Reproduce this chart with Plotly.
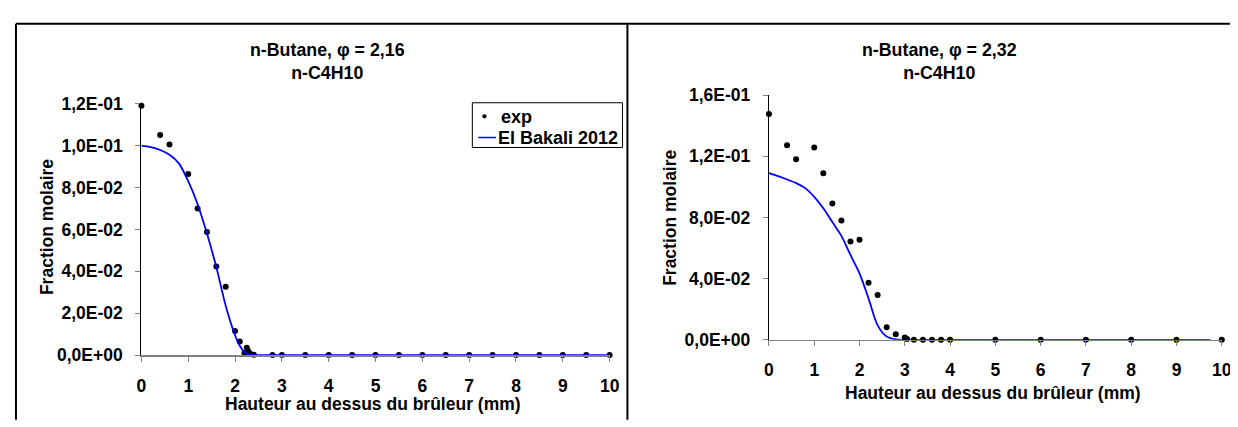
import plotly.graph_objects as go

# The page body keeps its default 8 px margin, so the figure covers page pixels 8..1238 x 8..427
OFF = 8
W, H = 1238 - OFF, 427 - OFF

# ---------------- data ----------------
x_ticks = [0, 1, 2, 3, 4, 5, 6, 7, 8, 9, 10]
x_ticktext = ["0", "1", "2", "3", "4", "5", "6", "7", "8", "9", "10"]

# Left panel: phi = 2,16
left_y_ticks = [0, 0.02, 0.04, 0.06, 0.08, 0.10, 0.12]
left_y_ticktext = ["0,0E+00", "2,0E-02", "4,0E-02", "6,0E-02", "8,0E-02", "1,0E-01", "1,2E-01"]

left_exp_x = [0, 0.4, 0.6, 1.0, 1.2, 1.4, 1.6, 1.8, 2.0, 2.1, 2.2, 2.25, 2.28, 2.32, 2.4,
              2.8, 3.0, 3.5, 4.0, 4.5, 5.0, 5.5, 6.0, 6.5, 7.0, 7.5, 8.0, 8.5, 9.0, 9.5, 10.0]
left_exp_y = [0.119, 0.105, 0.1005, 0.0865, 0.070, 0.0588, 0.0423, 0.0326, 0.0115, 0.0065,
              0.001, 0.0035, 0.002, 0.0008, 0.0002,
              0, 0, 0, 0, 0, 0, 0, 0, 0, 0, 0, 0, 0, 0, 0, 0]

left_mod_x = [0, 0.2, 0.4, 0.6, 0.8, 1.0, 1.2, 1.4, 1.6, 1.8, 2.0, 2.1, 2.2, 2.3, 2.4, 2.6,
              3, 4, 5, 6, 7, 8, 9, 10]
left_mod_y = [0.100, 0.0993, 0.0979, 0.0956, 0.0915, 0.083, 0.072, 0.058, 0.042, 0.0236,
              0.0095, 0.0045, 0.0015, 0.0004, 0.0001, 0,
              0, 0, 0, 0, 0, 0, 0, 0]

# Right panel: phi = 2,32
right_y_ticks = [0, 0.04, 0.08, 0.12, 0.16]
right_y_ticktext = ["0,0E+00", "4,0E-02", "8,0E-02", "1,2E-01", "1,6E-01"]

right_exp_x = [0, 0.4, 0.6, 1.0, 1.2, 1.4, 1.6, 1.8, 2.0, 2.2, 2.4, 2.6, 2.8, 3.0, 3.05,
               3.2, 3.4, 3.6, 3.8, 4.0, 5, 6, 7, 8, 9, 10]
right_exp_y = [0.1477, 0.1272, 0.1181, 0.1258, 0.109, 0.0892, 0.078, 0.0643, 0.0654, 0.0374,
               0.0293, 0.0083, 0.0037, 0.0015, 0.0005,
               0, 0, 0, 0, 0, 0, 0, 0, 0, 0, 0]

right_mod_x = [0, 0.3, 0.6, 0.8, 1.0, 1.2, 1.4, 1.6, 1.8, 2.0, 2.2, 2.4, 2.6, 2.8, 3.0,
               4, 5, 6, 7, 8, 9, 9.75]
right_mod_y = [0.109, 0.106, 0.1025, 0.0992, 0.0935, 0.086, 0.077, 0.068, 0.0555,
               0.0435, 0.027, 0.0095, 0.0022, 0.0003, 0,
               0, 0, 0, 0, 0, 0, 0]

titles = ["n-Butane, φ = 2,16<br>n-C4H10", "n-Butane, φ = 2,32<br>n-C4H10"]
x_title = "Hauteur au dessus du brûleur (mm)"
y_title = "Fraction molaire"
legend_names = ["exp", "El Bakali 2012"]

# ---------------- style ----------------
FONT = "Arial, Liberation Sans, sans-serif"
FS = 17.5
GRAY = "#808080"
BLUE = "#0000FF"


def px(x):
    return (x - OFF) / W


def py(y):
    return 1 - (y - OFF) / H


fig = go.Figure()

fig.add_trace(go.Scatter(x=left_exp_x, y=left_exp_y, mode="markers", name=legend_names[0],
                         marker=dict(color="black", size=6), cliponaxis=False,
                         xaxis="x", yaxis="y", showlegend=False))
fig.add_trace(go.Scatter(x=left_mod_x, y=left_mod_y, mode="lines", name=legend_names[1],
                         line=dict(color=BLUE, width=1.8, shape="spline", smoothing=0.8),
                         cliponaxis=False, xaxis="x", yaxis="y", showlegend=False))
fig.add_trace(go.Scatter(x=right_mod_x, y=right_mod_y, mode="lines", showlegend=False,
                         line=dict(color=BLUE, width=1.8, shape="spline", smoothing=0.8),
                         cliponaxis=False, xaxis="x2", yaxis="y2"))
fig.add_trace(go.Scatter(x=right_exp_x, y=right_exp_y, mode="markers", showlegend=False,
                         marker=dict(color="black", size=6), cliponaxis=False,
                         xaxis="x2", yaxis="y2"))

tickfont = dict(family=FONT, size=FS, color="black", weight="bold")

xcommon = dict(range=[0, 10], tickvals=x_ticks, ticktext=x_ticktext, showgrid=False,
               zeroline=False, showline=True, linecolor=GRAY, linewidth=1.5,
               ticks="outside", ticklen=5, tickcolor=GRAY, tickwidth=1,
               tickfont=tickfont, ticklabelstandoff=9, ticklabeloverflow="allow",
               fixedrange=True)
ycommon = dict(showgrid=False, zeroline=False, showline=True, linecolor="black", linewidth=1.2,
               ticks="outside", ticklen=5, tickcolor=GRAY, tickwidth=1,
               tickfont=tickfont, ticklabelstandoff=9, fixedrange=True)

fig.update_layout(
    width=W, height=H,
    margin=dict(l=0, r=0, t=0, b=0),
    paper_bgcolor="white", plot_bgcolor="white",
    font=dict(family=FONT, size=FS, color="black", weight="bold"),
    xaxis=dict(domain=[px(138), px(612)], anchor="y", **xcommon),
    yaxis=dict(domain=[py(362), py(98)], anchor="x", range=[0, 0.12],
               tickvals=left_y_ticks, ticktext=left_y_ticktext, **ycommon),
    xaxis2=dict(domain=[px(773.3), px(1231.7)], anchor="y2", **xcommon),
    yaxis2=dict(domain=[py(346), py(89)], anchor="x2", range=[0, 0.16],
                tickvals=right_y_ticks, ticktext=right_y_ticktext, **ycommon),
    showlegend=False,
)

ann_font = dict(family=FONT, size=FS, color="black", weight="bold")
title_font = dict(family=FONT, size=17.8, color="black", weight="bold")
leg_font = dict(family=FONT, size=18, color="black", weight="bold")
annotations = [
    dict(text=titles[0], x=px(326), y=py(54), xanchor="center", yanchor="middle", font=title_font),
    dict(text=titles[1], x=px(946), y=py(54), xanchor="center", yanchor="middle", font=title_font),
    dict(text=x_title, x=px(372), y=py(413), xanchor="center", yanchor="middle"),
    dict(text=x_title, x=px(1000), y=py(402), xanchor="center", yanchor="middle"),
    dict(text=y_title, x=px(43), y=py(228), xanchor="center", yanchor="middle", textangle=-90),
    dict(text=y_title, x=px(673), y=py(218), xanchor="center", yanchor="middle", textangle=-90),
    # legend texts
    dict(text=legend_names[0], x=px(500), y=py(112), xanchor="left", yanchor="middle", font=leg_font),
    dict(text=legend_names[1], x=px(497), y=py(134), xanchor="left", yanchor="middle", font=leg_font),
]
for a in annotations:
    a.update(xref="paper", yref="paper", showarrow=False)
    if "font" not in a:
        a["font"] = ann_font
fig.update_layout(annotations=annotations)

line = dict(color="black", width=2)
shapes = [
    dict(type="line", x0=px(11), y0=py(14), x1=px(1240), y1=py(14), line=line),
    dict(type="line", x0=px(11), y0=py(14), x1=px(11), y1=py(430), line=line),
    dict(type="line", x0=px(630), y0=py(14), x1=px(630), y1=py(430), line=line),
    # legend box and keys
    dict(type="rect", x0=px(473), y0=py(97), x1=px(625), y1=py(144),
         line=dict(color="black", width=1), fillcolor="white", layer="below"),
    dict(type="circle", x0=px(483), y0=py(109), x1=px(487.5), y1=py(113.5),
         line=dict(color="black", width=0), fillcolor="black"),
    dict(type="line", x0=px(479), y0=py(133.5), x1=px(497), y1=py(133.5),
         line=dict(color=BLUE, width=1.5)),
]
for s in shapes:
    s.update(xref="paper", yref="paper")
    if "layer" not in s:
        s["layer"] = "above"
fig.update_layout(shapes=shapes)

fig.write_html("out.html", config={"displayModeBar": False, "staticPlot": True})
